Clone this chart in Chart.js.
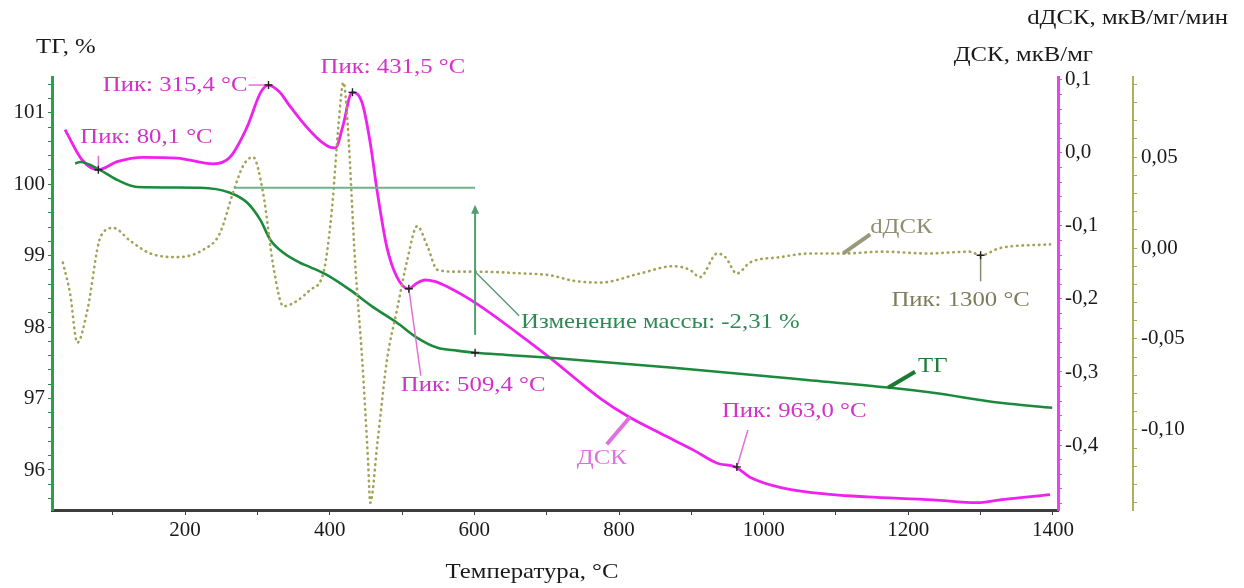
<!DOCTYPE html>
<html>
<head>
<meta charset="utf-8">
<script src="https://cdn.jsdelivr.net/npm/chart.js@4.4.1/dist/chart.umd.min.js"></script>
<style>
  html, body { margin: 0; padding: 0; background: #fff; }
</style>
</head>
<body>
<canvas id="chart" width="1244" height="588"></canvas>
<script>
// --- data ---
const tgTemp = [48, 55, 82, 106, 134, 221, 262, 286, 304, 318, 336, 359, 373, 396, 428, 460, 493, 521, 549, 576, 601, 645, 705, 875, 1060, 1175, 1234, 1327, 1399];
const tgValue = [100.29, 100.31, 100.20, 100.06, 99.96, 99.95, 99.88, 99.74, 99.50, 99.22, 99.04, 98.90, 98.84, 98.73, 98.52, 98.28, 98.06, 97.85, 97.71, 97.67, 97.64, 97.61, 97.57, 97.43, 97.26, 97.15, 97.08, 96.94, 96.87];

const dscTemp = [34, 58, 80, 106, 142, 189, 239, 262, 286, 304, 315, 330, 345, 360, 375, 390, 400, 408, 418, 431, 445, 456, 466, 479, 493, 509, 521, 532, 545, 562, 604, 660, 709, 742, 774, 811, 857, 903, 936, 961, 981, 1027, 1096, 1143, 1234, 1295, 1327, 1396];
const dscValue = [0.032, -0.010, -0.023, -0.012, -0.006, -0.007, -0.015, -0.006, 0.036, 0.082, 0.093, 0.084, 0.064, 0.045, 0.028, 0.014, 0.008, 0.007, 0.036, 0.083, 0.068, 0.014, -0.055, -0.129, -0.170, -0.186, -0.178, -0.174, -0.176, -0.183, -0.207, -0.247, -0.284, -0.311, -0.336, -0.360, -0.384, -0.407, -0.425, -0.430, -0.444, -0.459, -0.468, -0.471, -0.475, -0.479, -0.475, -0.468];

const ddscTemp = [31, 41, 51, 65, 83, 101, 124, 152, 189, 225, 248, 266, 280, 294, 308, 322, 336, 355, 373, 391, 403, 412, 419, 425, 435, 445, 453, 456, 466, 479, 493, 507, 521, 535, 549, 576, 604, 668, 705, 737, 774, 829, 875, 898, 912, 936, 947, 963, 981, 1023, 1064, 1110, 1165, 1226, 1285, 1300, 1327, 1396];
const ddscValue = [-0.008, -0.025, -0.052, -0.034, 0.006, 0.011, 0.004, -0.003, -0.005, -0.001, 0.008, 0.030, 0.045, 0.050, 0.030, -0.010, -0.032, -0.029, -0.023, -0.014, 0.021, 0.067, 0.091, 0.067, -0.007, -0.062, -0.117, -0.140, -0.107, -0.062, -0.034, -0.007, 0.012, 0.001, -0.012, -0.013, -0.013, -0.014, -0.015, -0.018, -0.019, -0.014, -0.010, -0.012, -0.016, -0.003, -0.005, -0.014, -0.008, -0.005, -0.003, -0.003, -0.002, -0.003, -0.002, -0.004, 0.000, 0.002];

const xLabels = [200, 400, 600, 800, 1000, 1200, 1400];
const tgTicks = [96, 97, 98, 99, 100, 101];
const dscTicks = [0.1, 0.0, -0.1, -0.2, -0.3, -0.4];
const ddscTicks = [0.05, 0.00, -0.05, -0.10];

const dscPeakTemps = [80.1, 315.4, 431.5, 509.4, 963.0];
const dscPeakValues = [-0.023, 0.093, 0.083, -0.186, -0.430];
const dscPeakLabels = ['Пик: 80,1 °C', 'Пик: 315,4 °C', 'Пик: 431,5 °C', 'Пик: 509,4 °C', 'Пик: 963,0 °C'];

const ddscPeakTemp = 1300;
const ddscPeakValue = -0.004;
const ddscPeakLabel = 'Пик: 1300 °C';

const massStartTemp = 268;
const massEndTemp = 601;
const massLevel = 99.95;
const massEndValue = 97.64;
const massDdscValue = -0.013;
const massLabel = 'Изменение массы: -2,31 %';

const curveLabelTemps = { dsc: 815, ddsc: 1110, tg: 1172 };
const curveLabelValues = { dsc: -0.362, ddsc: -0.003, tg: 97.15 };

// --- style ---
const FONT = '"Liberation Serif", "DejaVu Serif", serif';
const TXT = '#1a1a1a';
const GREEN = '#1c8a3c';
const MAGENTA = '#ee22ee';
const OLIVE = '#a2a258';
const STRETCH = 1.18;   // the source text is wider than Liberation Serif

function toXY(xs, ys) { return xs.map((x, i) => ({ x: x, y: ys[i] })); }

function buildTicks(scale, step) {
  const out = [];
  const start = Math.ceil(scale.min / step - 1e-9);
  const end = Math.floor(scale.max / step + 1e-9);
  for (let k = start; k <= end; k++) out.push({ value: +(k * step).toFixed(6) });
  scale.ticks = out;
}

function isMajor(v, list) { return list.some(m => Math.abs(m - v) < 1e-6); }

function cross(ctx, x, y) {
  ctx.save();
  ctx.strokeStyle = '#222';
  ctx.lineWidth = 1.4;
  ctx.beginPath();
  ctx.moveTo(x - 4, y); ctx.lineTo(x + 4, y);
  ctx.moveTo(x, y - 4); ctx.lineTo(x, y + 4);
  ctx.stroke();
  ctx.restore();
}

function line(ctx, x1, y1, x2, y2, color, w) {
  ctx.strokeStyle = color;
  ctx.lineWidth = w;
  ctx.beginPath();
  ctx.moveTo(x1, y1);
  ctx.lineTo(x2, y2);
  ctx.stroke();
}

function text(ctx, s, x, y, color, align) {
  ctx.save();
  ctx.translate(x, y);
  ctx.scale(STRETCH, 1);
  ctx.fillStyle = color;
  ctx.textAlign = align || 'left';
  ctx.textBaseline = 'middle';
  ctx.fillText(s, 0, 0);
  ctx.restore();
}

const notes = {
  id: 'notes',
  afterDatasetsDraw(chart) {
    const ctx = chart.ctx;
    const sx = chart.scales.x, sTg = chart.scales.yTg, sD = chart.scales.yDsc, sDd = chart.scales.yDdsc;
    ctx.save();
    ctx.font = '21px ' + FONT;
    ctx.lineCap = 'butt';

    // mass change
    const hx1 = sx.getPixelForValue(massStartTemp);
    const hx2 = sx.getPixelForValue(massEndTemp);
    const hy = sTg.getPixelForValue(massLevel);
    const ey = sTg.getPixelForValue(massEndValue);
    line(ctx, hx1, hy, hx2, hy, '#6cb48a', 2);
    const aTop = hy + 17, aBot = ey - 18;
    line(ctx, hx2, aBot, hx2, aTop + 6, '#4fa070', 2);
    ctx.fillStyle = '#4fa070';
    ctx.beginPath();
    ctx.moveTo(hx2, aTop); ctx.lineTo(hx2 - 4, aTop + 9); ctx.lineTo(hx2 + 4, aTop + 9);
    ctx.closePath(); ctx.fill();
    cross(ctx, hx2, ey);
    const dy0 = sDd.getPixelForValue(massDdscValue);
    line(ctx, hx2, dy0, hx2 + 44, dy0 + 44, '#5a9a78', 1.5);
    text(ctx, massLabel, hx2 + 46, dy0 + 51, '#2e8a55');

    // DSC peaks
    const layout = [
      { dx: -18, dy: -32, align: 'left', lead: [0, 0, 0, -14] },
      { dx: -21, dy: 0, align: 'right', lead: [-20, 0, 0, 0] },
      { dx: -32, dy: -25, align: 'left', lead: null },
      { dx: -8, dy: 97, align: 'left', lead: [0, 0, 12, 87] },
      { dx: -15, dy: -55, align: 'left', lead: [0, 0, 11, -37] }
    ];
    dscPeakTemps.forEach((t, i) => {
      const px = sx.getPixelForValue(t);
      const py = sD.getPixelForValue(dscPeakValues[i]);
      const L = layout[i];
      if (L.lead) line(ctx, px + L.lead[0], py + L.lead[1], px + L.lead[2], py + L.lead[3], '#e070d8', 1.5);
      cross(ctx, px, py);
      text(ctx, dscPeakLabels[i], px + L.dx, py + L.dy, '#d232c8', L.align);
    });

    // dDSC peak
    const qx = sx.getPixelForValue(ddscPeakTemp);
    const qy = sDd.getPixelForValue(ddscPeakValue);
    line(ctx, qx, qy, qx, qy + 26, '#8a8a70', 1.5);
    cross(ctx, qx, qy);
    text(ctx, ddscPeakLabel, qx - 20, qy + 45, '#7d7d5c', 'center');

    // curve labels
    let ax = sx.getPixelForValue(curveLabelTemps.dsc), ay = sD.getPixelForValue(curveLabelValues.dsc);
    line(ctx, ax, ay, ax - 23, ay + 27, '#e070e0', 4);
    text(ctx, 'ДСК', ax - 28, ay + 41, '#e070e0', 'center');

    ax = sx.getPixelForValue(curveLabelTemps.ddsc); ay = sDd.getPixelForValue(curveLabelValues.ddsc);
    line(ctx, ax, ay, ax + 27, ay - 19, '#99997a', 4);
    text(ctx, 'dДСК', ax + 27, ay - 26, '#8e8e70', 'left');

    ax = sx.getPixelForValue(curveLabelTemps.tg); ay = sTg.getPixelForValue(curveLabelValues.tg);
    line(ctx, ax, ay, ax + 27, ay - 16, '#1b7a33', 4);
    text(ctx, 'ТГ', ax + 30, ay - 21, '#1b7a33', 'left');

    ctx.restore();
  },
  afterDraw(chart) {
    const ctx = chart.ctx;
    const a = chart.chartArea;
    ctx.save();
    ctx.font = '21px ' + FONT;
    text(ctx, 'ТГ, %', 36, 47, TXT, 'left');
    text(ctx, 'dДСК, мкВ/мг/мин', 1228, 18, TXT, 'right');
    text(ctx, 'ДСК, мкВ/мг', 1093, 55, TXT, 'right');
    text(ctx, 'Температура, °C', a.left + 480, 572, TXT, 'center');
    ctx.restore();
  }
};

const tickFont = { family: FONT, size: 21 };

new Chart(document.getElementById('chart'), {
  type: 'line',
  data: {
    datasets: [
      {
        label: 'dДСК',
        data: toXY(ddscTemp, ddscValue),
        yAxisID: 'yDdsc',
        borderColor: OLIVE,
        borderWidth: 2.6,
        borderDash: [0.5, 5],
        borderCapStyle: 'round',
        cubicInterpolationMode: 'monotone',
        pointRadius: 0
      },
      {
        label: 'ТГ',
        data: toXY(tgTemp, tgValue),
        yAxisID: 'yTg',
        borderColor: GREEN,
        borderWidth: 2.6,
        cubicInterpolationMode: 'monotone',
        pointRadius: 0
      },
      {
        label: 'ДСК',
        data: toXY(dscTemp, dscValue),
        yAxisID: 'yDsc',
        borderColor: MAGENTA,
        borderWidth: 2.8,
        cubicInterpolationMode: 'monotone',
        pointRadius: 0
      }
    ]
  },
  options: {
    responsive: false,
    animation: false,
    layout: { padding: { top: 77, left: 0, right: 41, bottom: 0 } },
    plugins: { legend: { display: false }, tooltip: { enabled: false } },
    scales: {
      x: {
        type: 'linear',
        position: 'bottom',
        min: 16,
        max: 1407,
        afterBuildTicks: s => buildTicks(s, 100),
        afterFit: s => { s.height = 78; },
        ticks: {
          autoSkip: false, maxRotation: 0, padding: 3, color: TXT, font: tickFont,
          callback: v => isMajor(v, xLabels) ? String(v) : ''
        },
        grid: { drawOnChartArea: false, tickLength: 5, tickColor: '#444' },
        border: { color: '#3c3c3c', width: 3 }
      },
      yTg: {
        position: 'left',
        min: 95.44,
        max: 101.5,
        afterBuildTicks: s => buildTicks(s, 0.2),
        afterFit: s => { s.width = 52; },
        ticks: {
          autoSkip: false, padding: 3, color: TXT, font: tickFont,
          callback: v => isMajor(v, tgTicks) ? String(Math.round(v)) : ''
        },
        grid: { drawOnChartArea: false, tickLength: 4, tickColor: GREEN },
        border: { color: '#29a04c', width: 3 }
      },
      yDsc: {
        position: 'right',
        weight: 1,
        min: -0.489,
        max: 0.104,
        afterBuildTicks: s => buildTicks(s, 0.02),
        afterFit: s => { s.width = 75; },
        ticks: {
          autoSkip: false, padding: 3, color: TXT, font: tickFont,
          callback: v => isMajor(v, dscTicks) ? (Math.abs(v) < 1e-9 ? 0 : v).toFixed(1).replace('.', ',') : ''
        },
        grid: { drawOnChartArea: false, tickLength: 4, tickColor: '#e050e0' },
        border: { color: '#e844e8', width: 3 }
      },
      yDdsc: {
        position: 'right',
        weight: 2,
        min: -0.144,
        max: 0.094,
        afterBuildTicks: s => buildTicks(s, 0.01),
        afterFit: s => { s.width = 70; },
        ticks: {
          autoSkip: false, padding: 4, color: TXT, font: tickFont,
          callback: v => isMajor(v, ddscTicks) ? (Math.abs(v) < 1e-9 ? 0 : v).toFixed(2).replace('.', ',') : ''
        },
        grid: { drawOnChartArea: false, tickLength: 4, tickColor: '#a8a850' },
        border: { color: '#b0b05a', width: 2 }
      }
    }
  },
  plugins: [notes]
});
</script>
</body>
</html>
